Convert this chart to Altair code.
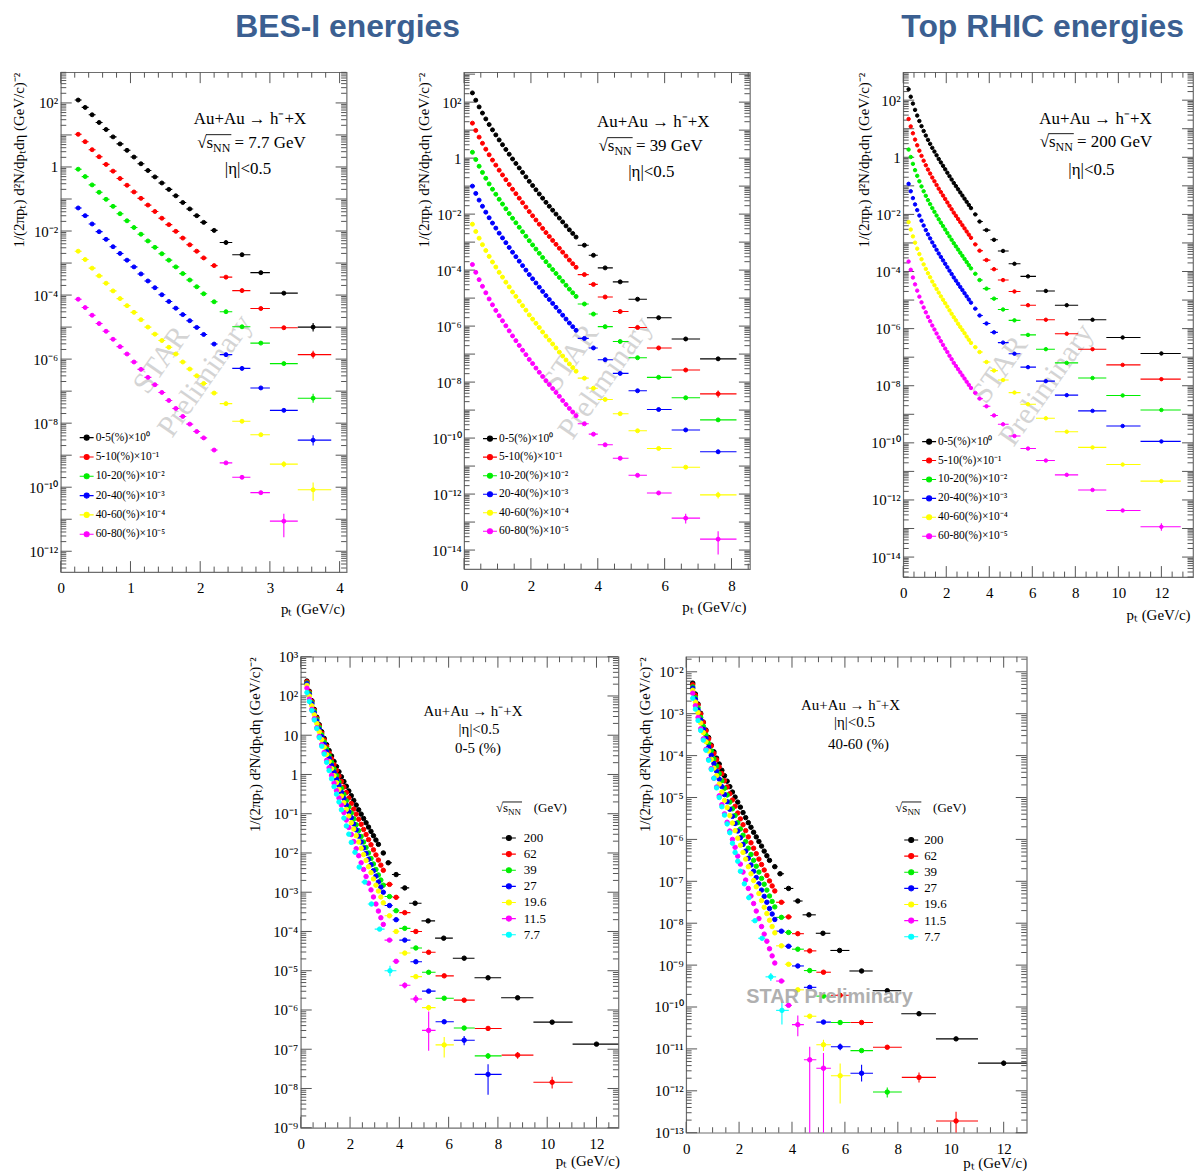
import math
import altair as alt
import pandas as pd

SERIF = "Liberation Serif"
BANNER_FONT = "Liberation Sans Narrow, Arial Narrow, Liberation Sans, sans-serif"
TICK_COLOR = "#555555"
FRAME_COLOR = "#6e6e6e"
TITLE_BLUE = "#3b5f91"
WATER = "#d4d4d4"
BLACK, RED, GREEN, BLUE, YELLOW, MAGENTA, CYAN = "#000000", "#ff0000", "#00ee00", "#0000ff", "#ffff00", "#ff00ff", "#00ffff"

# ---------------- pT bins (GeV/c) ----------------
PT7 = [0.25, 0.35, 0.45, 0.55, 0.65, 0.75, 0.85, 0.95, 1.05, 1.15, 1.25, 1.35, 1.45, 1.55, 1.65, 1.75,
       1.85, 1.95, 2.05, 2.2, 2.37, 2.6, 2.87, 3.2, 3.62]
PT7_LO = [0.2, 0.3, 0.4, 0.5, 0.6, 0.7, 0.8, 0.9, 1.0, 1.1, 1.2, 1.3, 1.4, 1.5, 1.6, 1.7, 1.8, 1.9, 2.0,
          2.15, 2.28, 2.46, 2.72, 3.0, 3.4]
PT7_HI = [0.3, 0.4, 0.5, 0.6, 0.7, 0.8, 0.9, 1.0, 1.1, 1.2, 1.3, 1.4, 1.5, 1.6, 1.7, 1.8, 1.9, 2.0, 2.1,
          2.25, 2.46, 2.72, 3.0, 3.4, 3.88]

PT_BES = [0.25, 0.35, 0.45, 0.55, 0.65, 0.75, 0.85, 0.95, 1.05, 1.15, 1.25, 1.35, 1.45, 1.55, 1.65, 1.75,
          1.85, 1.95, 2.05, 2.15, 2.25, 2.35, 2.45, 2.55, 2.65, 2.75, 2.85, 2.95, 3.05, 3.15, 3.25, 3.35,
          3.6, 3.87, 4.22, 4.67, 5.19, 5.82, 6.63, 7.6, 8.8, 10.2]
PT_BES_SPARSE_LO = [3.4, 3.73, 4.0, 4.45, 4.92, 5.47, 6.21, 7.06, 8.15, 9.44]
PT_BES_SPARSE_HI = [3.73, 4.0, 4.45, 4.92, 5.47, 6.21, 7.06, 8.15, 9.44, 11.03]

PT200 = [0.25, 0.35, 0.45, 0.55, 0.65, 0.75, 0.85, 0.95, 1.05, 1.15, 1.25, 1.35, 1.45, 1.55, 1.65, 1.75,
         1.85, 1.95, 2.05, 2.15, 2.25, 2.35, 2.45, 2.55, 2.65, 2.75, 2.85, 2.95, 3.05, 3.15,
         3.35, 3.55, 3.87, 4.22, 4.64, 5.17, 5.8, 6.63, 7.6, 8.8, 10.2, 12.0]
PT200_SPARSE_LO = [3.25, 3.45, 3.7, 4.05, 4.4, 4.9, 5.45, 6.17, 7.05, 8.13, 9.44, 11.03]
PT200_SPARSE_HI = [3.45, 3.7, 4.05, 4.4, 4.9, 5.45, 6.17, 7.05, 8.13, 9.44, 11.03, 12.9]

PT_BES_LO = [round(c - 0.05, 2) for c in PT_BES[:32]] + PT_BES_SPARSE_LO
PT_BES_HI = [round(c + 0.05, 2) for c in PT_BES[:32]] + PT_BES_SPARSE_HI
PT200_LO = [round(c - 0.05, 2) for c in PT200[:30]] + PT200_SPARSE_LO
PT200_HI = [round(c + 0.05, 2) for c in PT200[:30]] + PT200_SPARSE_HI

# ------------- yields, log10 of plotted value -------------
# 7.7 GeV (scaled as in the legend)
LY7_C0_5 = [2.09, 1.86, 1.63, 1.39, 1.17, 0.94, 0.72, 0.52, 0.31, 0.10, -0.11, -0.31, -0.50, -0.70, -0.90,
            -1.11, -1.31, -1.52, -1.73, -1.98, -2.36, -2.74, -3.30, -3.94, -5.00]
LY7_C5_10 = [1.02, 0.79, 0.54, 0.32, 0.08, -0.13, -0.36, -0.57, -0.78, -0.98, -1.19, -1.39, -1.60, -1.80,
             -2.01, -2.22, -2.43, -2.63, -2.84, -3.08, -3.44, -3.86, -4.42, -5.02, -5.86]
LY7_C10_20 = [-0.07, -0.30, -0.56, -0.79, -1.01, -1.23, -1.46, -1.68, -1.89, -2.10, -2.31, -2.51, -2.71, -2.91,
              -3.12, -3.33, -3.53, -3.74, -3.96, -4.21, -4.52, -4.99, -5.50, -6.14, -7.22]
LY7_C20_40 = [-1.28, -1.52, -1.78, -2.02, -2.26, -2.49, -2.70, -2.91, -3.12, -3.34, -3.56, -3.77, -3.99, -4.20,
              -4.41, -4.61, -4.80, -5.01, -5.23, -5.53, -5.86, -6.29, -6.90, -7.60, -8.53]
LY7_C40_60 = [-2.63, -2.89, -3.16, -3.40, -3.63, -3.87, -4.11, -4.33, -4.54, -4.77, -5.00, -5.22, -5.42, -5.63,
              -5.84, -6.09, -6.31, -6.52, -6.76, -7.06, -7.39, -7.94, -8.36, -9.28, -10.08]
LY7_C60_80 = [-4.13, -4.39, -4.63, -4.89, -5.13, -5.38, -5.61, -5.84, -6.09, -6.32, -6.57, -6.80, -7.04, -7.29,
              -7.54, -7.79, -8.03, -8.26, -8.46, -8.84, -9.24, -9.69, -10.17, -11.06]

# 39 GeV
LY39_C0_5 = [2.33, 2.07, 1.83, 1.61, 1.40, 1.20, 1.01, 0.83, 0.65, 0.48, 0.31, 0.14, -0.03, -0.19, -0.35, -0.51,
             -0.67, -0.83, -0.98, -1.13, -1.28, -1.43, -1.58, -1.72, -1.86, -2.00, -2.14, -2.28, -2.42, -2.56,
             -2.69, -2.82, -3.11, -3.47, -3.92, -4.42, -5.04, -5.70, -6.46, -7.17]
LY39_C5_10 = [1.25, 0.99, 0.75, 0.53, 0.32, 0.12, -0.07, -0.25, -0.43, -0.60, -0.77, -0.94, -1.11, -1.27, -1.43,
              -1.59, -1.75, -1.91, -2.06, -2.21, -2.36, -2.51, -2.66, -2.80, -2.94, -3.08, -3.22, -3.36, -3.50,
              -3.64, -3.77, -3.90, -4.16, -4.51, -4.96, -5.48, -6.05, -6.78, -7.57, -8.42]
LY39_C10_20 = [0.21, -0.05, -0.29, -0.51, -0.72, -0.92, -1.11, -1.29, -1.47, -1.64, -1.81, -1.98, -2.15, -2.31,
               -2.47, -2.63, -2.79, -2.95, -3.10, -3.25, -3.40, -3.55, -3.70, -3.84, -3.98, -4.12, -4.26, -4.40,
               -4.54, -4.68, -4.81, -4.94, -5.21, -5.57, -6.02, -6.55, -7.13, -7.83, -8.56, -9.35]
LY39_C20_40 = [-1.00, -1.26, -1.50, -1.72, -1.93, -2.13, -2.32, -2.50, -2.68, -2.85, -3.02, -3.19, -3.36, -3.52,
               -3.68, -3.84, -4.00, -4.16, -4.31, -4.46, -4.61, -4.76, -4.91, -5.05, -5.19, -5.33, -5.47, -5.61,
               -5.75, -5.89, -6.02, -6.15, -6.44, -6.78, -7.20, -7.69, -8.31, -8.98, -9.71, -10.49]
LY39_C40_60 = [-2.36, -2.62, -2.86, -3.09, -3.30, -3.51, -3.71, -3.89, -4.08, -4.25, -4.43, -4.60, -4.78, -4.94,
               -5.11, -5.27, -5.43, -5.60, -5.75, -5.90, -6.05, -6.21, -6.36, -6.50, -6.64, -6.78, -6.93, -7.07,
               -7.21, -7.35, -7.48, -7.61, -7.86, -8.22, -8.62, -9.13, -9.74, -10.37, -11.04, -12.03]
LY39_C60_80 = [-3.80, -4.08, -4.34, -4.58, -4.81, -5.03, -5.24, -5.44, -5.63, -5.81, -5.99, -6.17, -6.35, -6.52,
               -6.69, -6.86, -7.02, -7.19, -7.34, -7.50, -7.65, -7.80, -7.95, -8.09, -8.23, -8.37, -8.51, -8.66,
               -8.80, -8.94, -9.07, -9.20, -9.49, -9.86, -10.24, -10.72, -11.33, -11.96, -12.86, -13.61]

# 200 GeV
LY200_C0_5 = [2.38, 2.12, 1.88, 1.66, 1.46, 1.27, 1.09, 0.92, 0.76, 0.61, 0.47, 0.33, 0.20, 0.07, -0.06, -0.18,
              -0.30, -0.42, -0.54, -0.66, -0.78, -0.90, -1.01, -1.12, -1.23, -1.34, -1.45, -1.56, -1.67, -1.78,
              -2.00, -2.25, -2.55, -2.89, -3.28, -3.73, -4.17, -4.68, -5.18, -5.69, -6.31, -6.87]
LY200_C5_10 = [1.34, 1.08, 0.84, 0.62, 0.42, 0.23, 0.05, -0.12, -0.28, -0.43, -0.57, -0.71, -0.84, -0.97, -1.10,
               -1.22, -1.34, -1.46, -1.58, -1.70, -1.82, -1.94, -2.05, -2.16, -2.27, -2.38, -2.49, -2.60, -2.71,
               -2.82, -3.05, -3.27, -3.60, -3.92, -4.30, -4.70, -5.18, -5.69, -6.18, -6.72, -7.27, -7.77]
LY200_C10_20 = [0.27, 0.01, -0.23, -0.45, -0.65, -0.84, -1.02, -1.19, -1.35, -1.50, -1.64, -1.78, -1.91, -2.04,
                -2.17, -2.29, -2.41, -2.53, -2.65, -2.77, -2.89, -3.01, -3.12, -3.23, -3.34, -3.45, -3.56, -3.67,
                -3.78, -3.89, -4.08, -4.30, -4.60, -4.95, -5.33, -5.71, -6.22, -6.72, -7.20, -7.73, -8.34, -8.85]
LY200_C20_40 = [-0.93, -1.19, -1.43, -1.65, -1.85, -2.04, -2.22, -2.39, -2.55, -2.70, -2.84, -2.98, -3.11, -3.24,
                -3.37, -3.49, -3.61, -3.73, -3.85, -3.97, -4.09, -4.21, -4.32, -4.43, -4.54, -4.65, -4.76, -4.87,
                -4.98, -5.09, -5.30, -5.54, -5.82, -6.13, -6.49, -6.88, -7.35, -7.84, -8.33, -8.88, -9.41, -9.95]
LY200_C40_60 = [-2.27, -2.53, -2.77, -2.99, -3.20, -3.39, -3.57, -3.75, -3.91, -4.06, -4.20, -4.35, -4.48, -4.61,
                -4.74, -4.87, -4.99, -5.11, -5.23, -5.36, -5.48, -5.60, -5.71, -5.83, -5.94, -6.05, -6.16, -6.28,
                -6.39, -6.50, -6.65, -6.82, -7.17, -7.47, -7.80, -8.24, -8.65, -9.14, -9.61, -10.16, -10.76, -11.34]
LY200_C60_80 = [-3.65, -3.94, -4.21, -4.45, -4.67, -4.88, -5.08, -5.26, -5.43, -5.59, -5.74, -5.89, -6.03, -6.17,
                -6.31, -6.44, -6.57, -6.70, -6.82, -6.95, -7.07, -7.20, -7.31, -7.42, -7.53, -7.64, -7.75, -7.86,
                -7.97, -8.08, -8.25, -8.45, -8.72, -9.04, -9.35, -9.76, -10.20, -10.62, -11.12, -11.65, -12.37, -12.94]

# other energies, 0-5 %
LY62_C0_5 = [2.36, 2.10, 1.86, 1.64, 1.43, 1.24, 1.05, 0.88, 0.71, 0.55, 0.40, 0.25, 0.10, -0.04, -0.18, -0.32,
             -0.46, -0.60, -0.74, -0.88, -1.01, -1.14, -1.27, -1.40, -1.53, -1.66, -1.79, -1.92, -2.05, -2.18,
             -2.31, -2.44, -2.80, -3.13, -3.52, -4.00, -4.53, -5.13, -5.75, -6.47, -7.15, -7.84]
LY27_C0_5 = [2.31, 2.04, 1.80, 1.57, 1.36, 1.15, 0.96, 0.77, 0.58, 0.41, 0.23, 0.06, -0.12, -0.28, -0.45, -0.61,
             -0.78, -0.95, -1.10, -1.26, -1.41, -1.57, -1.72, -1.87, -2.01, -2.16, -2.30, -2.45, -2.59, -2.74,
             -2.87, -3.00, -3.34, -3.70, -4.22, -4.77, -5.52, -6.30, -6.77, -7.64]
LY19_C0_5 = [2.27, 2.00, 1.75, 1.52, 1.30, 1.09, 0.89, 0.70, 0.51, 0.33, 0.15, -0.03, -0.21, -0.38, -0.55, -0.72,
             -0.89, -1.06, -1.23, -1.39, -1.56, -1.72, -1.88, -2.04, -2.19, -2.35, -2.50, -2.66, -2.82, -2.97,
             -3.12, -3.27, -3.60, -4.00, -4.55, -5.15, -5.94, -6.89]
LY11_C0_5 = [2.20, 1.92, 1.66, 1.42, 1.19, 0.97, 0.76, 0.56, 0.36, 0.17, -0.02, -0.22, -0.41, -0.60, -0.78, -0.97,
             -1.16, -1.35, -1.53, -1.71, -1.89, -2.07, -2.25, -2.42, -2.60, -2.77, -2.94, -3.12, -3.30, -3.48,
             -3.65, -3.82, -4.22, -4.76, -5.37, -5.72, -6.52]
# other energies, 40-60 % (as plotted, x10^-4)
LY62_C40_60 = [-2.31, -2.56, -2.79, -3.01, -3.21, -3.41, -3.60, -3.77, -3.95, -4.10, -4.27, -4.43, -4.60, -4.75,
               -4.91, -5.06, -5.21, -5.37, -5.51, -5.65, -5.79, -5.94, -6.08, -6.21, -6.34, -6.47, -6.60, -6.73,
               -6.86, -6.99, -7.11, -7.23, -7.50, -7.85, -8.25, -8.66, -9.17, -9.72, -10.37, -10.96, -11.68, -12.72]
LY27_C40_60 = [-2.39, -2.66, -2.91, -3.15, -3.37, -3.59, -3.80, -3.99, -4.19, -4.37, -4.56, -4.74, -4.93, -5.10,
               -5.28, -5.45, -5.62, -5.80, -5.96, -6.12, -6.28, -6.45, -6.61, -6.76, -6.91, -7.06, -7.21, -7.36,
               -7.50, -7.65, -7.78, -7.91, -8.19, -8.55, -9.02, -9.53, -10.36, -10.95, -11.58]
LY19_C40_60 = [-2.44, -2.72, -2.97, -3.22, -3.45, -3.67, -3.89, -4.09, -4.30, -4.48, -4.68, -4.87, -5.07, -5.24,
               -5.43, -5.61, -5.79, -5.97, -6.14, -6.31, -6.47, -6.65, -6.82, -6.98, -7.13, -7.29, -7.46, -7.62,
               -7.77, -7.93, -8.08, -8.23, -8.54, -8.98, -9.59, -10.22, -10.90, -11.64]
LY11_C40_60 = [-2.51, -2.81, -3.09, -3.36, -3.60, -3.85, -4.09, -4.31, -4.54, -4.75, -4.96, -5.17, -5.39, -5.59,
               -5.80, -6.00, -6.19, -6.40, -6.59, -6.78, -6.97, -7.17, -7.35, -7.53, -7.71, -7.89, -8.08, -8.26,
               -8.43, -8.61, -8.78, -8.95, -9.38, -9.96, -10.42, -11.26, -11.46]

# vertical error bars: point index -> (log10 low, log10 high)
ERR7 = {"C0_5": {24: (-5.14, -4.87)}, "C5_10": {24: (-5.98, -5.74)}, "C10_20": {24: (-7.36, -7.08)},
        "C20_40": {24: (-8.70, -8.38)}, "C40_60": {23: (-9.38, -9.19), 24: (-10.42, -9.85)},
        "C60_80": {23: (-11.56, -10.83)}}
ERR39 = {"C0_5": {38: (-6.52, -6.41), 39: (-7.25, -7.10)}, "C5_10": {39: (-8.55, -8.30)},
         "C10_20": {39: (-9.42, -9.28)}, "C20_40": {39: (-10.56, -10.42)}, "C40_60": {39: (-12.16, -11.92)},
         "C60_80": {38: (-13.05, -12.70), 39: (-14.16, -13.33)}}
ERR200 = {"C0_5": {}, "C5_10": {41: (-7.82, -7.72)}, "C10_20": {}, "C20_40": {},
          "C40_60": {41: (-11.40, -11.28)}, "C60_80": {41: (-13.08, -12.82)}}
ERR62 = {"C0_5": {40: (-7.24, -7.07), 41: (-8.0, -7.7)}, "C40_60": {40: (-11.8, -11.56), 41: (-13.0, -12.5)}}
ERR27 = {"C0_5": {38: (-6.9, -6.66), 39: (-8.16, -7.38)}, "C40_60": {37: (-11.03, -10.87), 38: (-11.78, -11.38)}}
ERR19 = {"C0_5": {36: (-6.02, -5.87), 37: (-7.21, -6.69)}, "C40_60": {36: (-11.05, -10.78), 37: (-12.3, -11.35)}}
ERR11 = {"C0_5": {34: (-5.45, -5.30), 35: (-5.82, -5.62), 36: (-7.04, -6.04)},
         "C40_60": {34: (-10.7, -10.2), 35: (-13.5, -10.95), 36: (-13.5, -11.1)}}

CENT_LABELS = ["0-5(%)×10⁰", "5-10(%)×10⁻¹", "10-20(%)×10⁻²", "20-40(%)×10⁻³", "40-60(%)×10⁻⁴", "60-80(%)×10⁻⁵"]
CENT_COLORS = [BLACK, RED, GREEN, BLUE, YELLOW, MAGENTA]
FS = "\u2007"
ENERGY_LABELS = ["200", FS + "62", FS + "39", FS + "27", FS + "19.6", FS + "11.5", FS + FS + "7.7"]
ENERGY_COLORS = [BLACK, RED, GREEN, BLUE, YELLOW, MAGENTA, CYAN]

BINS7 = (PT7, PT7_LO, PT7_HI)
BINS_BES = (PT_BES, PT_BES_LO, PT_BES_HI)
BINS200 = (PT200, PT200_LO, PT200_HI)

YTITLE = "1/(2πpₜ) d²N/dpₜdη (GeV/c)⁻²"
SUP = "['⁰','¹','²','³','⁴','⁵','⁶','⁷','⁸','⁹']"
EXP = "round(log(datum.value)/LN10)"
LOG_LABEL = (f"{EXP} == 0 ? '1' : {EXP} == 1 ? '10' : '10' + ({EXP} < 0 ? '⁻' : '') + "
             f"(abs({EXP}) >= 10 ? {SUP}[floor(abs({EXP})/10)] : '') + {SUP}[abs({EXP}) % 10]")
SYM = "M-1,0H1M0.36,0A0.36,0.36,0,1,1,-0.36,0A0.36,0.36,0,1,1,0.36,0Z"
DUMMY = pd.DataFrame({"a": [0]})


def build_df(series):
    rows = []
    for name, bins, logs, errs in series:
        pts, los, his = bins
        for i, lv in enumerate(logs[:len(pts)]):
            e = errs.get(i)
            rows.append({"s": name, "pt": pts[i], "lo": los[i], "hi": his[i], "y": 10.0 ** lv,
                         "ylo": (10.0 ** e[0]) if e else None, "yhi": (10.0 ** e[1]) if e else None})
    return pd.DataFrame(rows)


def txt(s, x, y, size, align="center", baseline="middle", font=SERIF, color="black", angle=0, weight="normal"):
    kw = dict(text=s, font=font, fontSize=size, align=align, baseline=baseline, color=color, fontWeight=weight)
    if angle:
        kw["angle"] = angle
    return alt.Chart(DUMMY).mark_text(**kw).encode(x=alt.value(x), y=alt.value(y))


def hline(x1, x2, y, width=0.9):
    return alt.Chart(DUMMY).mark_rule(color="black", strokeWidth=width).encode(
        x=alt.value(x1), x2=alt.value(x2), y=alt.value(y))


def sqrt_s(x0, yb, size, rest, sub, rest_x=None):
    w1 = 0.938 * size
    w2 = 1.444 * sub
    rx = rest_x if rest_x is not None else x0 + w1 + w2 + 0.25 * size
    return [txt("√s", x0, yb, size, align="left", baseline="alphabetic"),
            txt("NN", x0 + w1, yb + 0.22 * size, sub, align="left", baseline="alphabetic"),
            hline(x0 + 0.52 * size, x0 + w1 + w2 + 1, yb - 0.78 * size),
            txt(rest, rx, yb, size, align="left", baseline="alphabetic")]


def tick_layers(W, H, xs, ys, xaxis, yaxis, xmajor, xstep, xmax, ylo, yhi):
    ymaj, ymin = [], []
    for k in range(math.floor(ylo) - 1, math.ceil(yhi) + 1):
        for m in range(1, 10):
            v = m * 10.0 ** k
            if 10.0 ** ylo <= v <= 10.0 ** yhi:
                (ymaj if m == 1 else ymin).append(v)
    xmin = []
    n = int(round(xmax / xstep))
    for i in range(n + 1):
        v = round(i * xstep, 4)
        if v <= xmax and all(abs(v - m) > 1e-6 for m in xmajor):
            xmin.append(v)

    def yr(vals, a, b):
        return alt.Chart(pd.DataFrame({"v": vals})).mark_rule(color=TICK_COLOR, strokeWidth=1).encode(
            y=alt.Y("v:Q", scale=ys, axis=yaxis), x=alt.value(a), x2=alt.value(b))

    def xr(vals, a, b):
        return alt.Chart(pd.DataFrame({"v": vals})).mark_rule(color=TICK_COLOR, strokeWidth=1).encode(
            x=alt.X("v:Q", scale=xs, axis=xaxis), y=alt.value(a), y2=alt.value(b))

    return [yr(ymaj, 0, 11), yr(ymaj, W - 11, W), yr(ymin, 0, 5.5), yr(ymin, W - 5.5, W),
            xr(xmajor, H, H - 11), xr(xmajor, 0, 11), xr(xmin, H, H - 5.5), xr(xmin, 0, 5.5)]


def make_panel(series, order, colors, W, H, xmax, ylo, yhi, xmajor, xstep, yexps, leg, ytx, xtitle,
               below, above, psize):
    df = build_df(series)
    xs = alt.Scale(domain=[0, xmax], nice=False, zero=False)
    ys = alt.Scale(type="log", domain=[10.0 ** ylo, 10.0 ** yhi], nice=False)
    cs = alt.Scale(domain=order, range=colors)
    xaxis = alt.Axis(values=xmajor, format="d", ticks=False, domain=False, grid=False, labelFlush=False,
                     labelOverlap=False, labelFont=SERIF, labelFontSize=15, labelPadding=9, labelColor="black",
                     title="pₜ (GeV/c)", titleFont=SERIF, titleFontSize=15, titleFontWeight="normal",
                     titleX=xtitle[0], titleY=xtitle[1], titleAlign="right", titleBaseline="middle",
                     titleColor="black")
    yaxis = alt.Axis(values=[10.0 ** e for e in yexps], labelExpr=LOG_LABEL, ticks=False, domain=False,
                     grid=False, labelFlush=False, labelOverlap=False, labelFont=SERIF, labelFontSize=15,
                     labelPadding=3, labelColor="black", title=YTITLE, titleFont=SERIF, titleFontSize=15,
                     titleFontWeight="normal", titleAngle=270, titleX=ytx, titleY=0, titleAlign="right",
                     titleBaseline="middle", titleColor="black")
    legend = alt.Legend(orient="none", legendX=leg[0], legendY=leg[1], title=None, symbolType=SYM,
                        symbolSize=196, symbolStrokeWidth=1.1, labelFont=SERIF, labelFontSize=leg[3],
                        labelColor="black", rowPadding=leg[2], labelOffset=leg[4], padding=0, labelLimit=300)
    base = alt.Chart(df)
    xerr = base.mark_rule(strokeWidth=1.1, clip=True).encode(
        x=alt.X("lo:Q", scale=xs, axis=xaxis), x2="hi:Q",
        y=alt.Y("y:Q", scale=ys, axis=yaxis),
        stroke=alt.Stroke("s:N", scale=cs, legend=legend))
    yerr = base.transform_filter("isValid(datum.ylo)").mark_rule(strokeWidth=1.1, clip=True).encode(
        x=alt.X("pt:Q", scale=xs, axis=xaxis),
        y=alt.Y("ylo:Q", scale=ys, axis=yaxis), y2="yhi:Q",
        stroke=alt.Stroke("s:N", scale=cs, legend=legend))
    pts = base.mark_point(filled=True, shape="circle", size=psize, strokeWidth=1, opacity=1, clip=True).encode(
        x=alt.X("pt:Q", scale=xs, axis=xaxis),
        y=alt.Y("y:Q", scale=ys, axis=yaxis),
        fill=alt.Fill("s:N", scale=cs, legend=legend),
        stroke=alt.Stroke("s:N", scale=cs, legend=legend))
    layers = (below + tick_layers(W, H, xs, ys, xaxis, yaxis, xmajor, xstep, xmax, ylo, yhi)
              + [xerr, yerr, pts] + above)
    return alt.layer(*layers).properties(width=W, height=H)


def cent_series(bins, arrs, errs):
    keys = ["C0_5", "C5_10", "C10_20", "C20_40", "C40_60", "C60_80"]
    return [(CENT_LABELS[i], bins, arrs[i], errs.get(keys[i], {})) for i in range(6)]


def watermark(p1, p2):
    return [txt("STAR", p1[0], p1[1], 30, color=WATER, angle=305),
            txt("Preliminary", p2[0], p2[1], 30, color=WATER, angle=305)]


def banner(s, x):
    return txt(s, x, -35, 32, baseline="alphabetic", font=BANNER_FONT, color=TITLE_BLUE, weight="bold")


# ---------------- panels ----------------
p1 = make_panel(
    cent_series(BINS7, [LY7_C0_5, LY7_C5_10, LY7_C10_20, LY7_C20_40, LY7_C40_60, LY7_C60_80], ERR7),
    CENT_LABELS, CENT_COLORS, 287, 502, 4.1, -12.65, 2.96, [0, 1, 2, 3, 4], 0.2, list(range(2, -13, -2)),
    (18, 359, 5.4, 11.5, 1), -42, (285, 37),
    below=watermark((101, 289), (145, 305)),
    above=[banner("BES-I energies", 288), txt("Au+Au → h⁻+X", 190, 47, 17)]
          + sqrt_s(137, 76, 17, "= 7.7 GeV", 12) + [txt("|η|<0.5", 188, 97, 17)],
    psize=16)

p2 = make_panel(
    cent_series(BINS_BES, [LY39_C0_5, LY39_C5_10, LY39_C10_20, LY39_C20_40, LY39_C40_60, LY39_C60_80], ERR39),
    CENT_LABELS, CENT_COLORS, 287, 499, 8.55, -14.68, 3.07, [0, 2, 4, 6, 8], 0.5, list(range(2, -15, -2)),
    (18, 360, 4.6, 11.5, 1), -41, (283, 38),
    below=watermark((107, 287), (142, 307)),
    above=[txt("Au+Au → h⁻+X", 190, 50, 17)] + sqrt_s(135, 79, 17, "= 39 GeV", 12)
          + [txt("|η|<0.5", 188, 100, 17)],
    psize=16)

p3 = make_panel(
    cent_series(BINS200, [LY200_C0_5, LY200_C5_10, LY200_C10_20, LY200_C20_40, LY200_C40_60, LY200_C60_80],
                ERR200),
    CENT_LABELS, CENT_COLORS, 291, 507, 13.47, -14.70, 2.98, [0, 2, 4, 6, 8, 10, 12], 0.5,
    list(range(2, -15, -2)),
    (18, 363, 5.0, 11.5, 1), -40, (288, 38),
    below=watermark((97, 299), (144, 314)),
    above=[banner("Top RHIC energies", 140), txt("Au+Au → h⁻+X", 193, 47, 17)]
          + sqrt_s(137, 75, 17, "= 200 GeV", 12) + [txt("|η|<0.5", 189, 98, 17)],
    psize=12)

p4_series = [
    (ENERGY_LABELS[0], BINS200, LY200_C0_5, ERR200["C0_5"]),
    (ENERGY_LABELS[1], BINS_BES, LY62_C0_5, ERR62["C0_5"]),
    (ENERGY_LABELS[2], BINS_BES, LY39_C0_5, ERR39["C0_5"]),
    (ENERGY_LABELS[3], BINS_BES, LY27_C0_5, ERR27["C0_5"]),
    (ENERGY_LABELS[4], BINS_BES, LY19_C0_5, ERR19["C0_5"]),
    (ENERGY_LABELS[5], BINS_BES, LY11_C0_5, ERR11["C0_5"]),
    (ENERGY_LABELS[6], BINS7, LY7_C0_5, ERR7["C0_5"]),
]
p4 = make_panel(
    p4_series, ENERGY_LABELS, ENERGY_COLORS, 319, 473, 12.89, -9.0, 3.0, [0, 2, 4, 6, 8, 10, 12], 0.5,
    list(range(3, -10, -1)),
    (201, 174, 1.2, 13, 7), -46, (320, 33),
    below=[],
    above=[txt("Au+Au → h⁻+X", 173, 55, 15), txt("|η|<0.5", 179, 73, 15), txt("0-5 (%)", 178, 92, 15)]
          + sqrt_s(196, 156, 13, "(GeV)", 9, rest_x=234),
    psize=20)

p5_series = [
    (ENERGY_LABELS[0], BINS200, LY200_C40_60, ERR200["C40_60"]),
    (ENERGY_LABELS[1], BINS_BES, LY62_C40_60, ERR62["C40_60"]),
    (ENERGY_LABELS[2], BINS_BES, LY39_C40_60, ERR39["C40_60"]),
    (ENERGY_LABELS[3], BINS_BES, LY27_C40_60, ERR27["C40_60"]),
    (ENERGY_LABELS[4], BINS_BES, LY19_C40_60, ERR19["C40_60"]),
    (ENERGY_LABELS[5], BINS_BES, LY11_C40_60, ERR11["C40_60"]),
    (ENERGY_LABELS[6], BINS7, LY7_C40_60, ERR7["C40_60"]),
]
p5 = make_panel(
    p5_series, ENERGY_LABELS, ENERGY_COLORS, 342, 478, 12.87, -13.0, -1.64, [0, 2, 4, 6, 8, 10, 12], 0.5,
    list(range(-2, -14, -1)),
    (218, 176, 1.2, 13, 5), -42, (342, 30),
    below=[],
    above=[txt("Au+Au → h⁻+X", 165, 48, 15), txt("|η|<0.5", 169, 66, 15), txt("40-60 (%)", 173, 88, 15),
           txt("STAR Preliminary", 144, 342, 20, font="Liberation Sans", color="#b0b0b0", weight="bold")]
          + sqrt_s(210, 156, 13, "(GeV)", 9, rest_x=248),
    psize=20)


def spacer(w, h=1):
    return alt.Chart(DUMMY).mark_point(opacity=0).encode(
        x=alt.X("a:Q", axis=None), y=alt.Y("a:Q", axis=None)
    ).properties(width=w, height=h, view=alt.ViewBackground(stroke="transparent"))


def independent(c):
    return c.resolve_scale(fill="independent", stroke="independent").resolve_legend(
        fill="independent", stroke="independent")


row1 = independent(alt.hconcat(p1, spacer(118), p2, spacer(154), p3, spacing=0, bounds="flush"))
row2 = independent(alt.hconcat(spacer(241), p4, spacer(68), p5, spacing=0, bounds="flush"))
chart = independent(alt.vconcat(row1, row2, spacing=25))
chart = chart.properties(padding={"left": 3, "top": 0, "right": 0, "bottom": 0}, background="white")
chart = chart.configure_view(stroke=FRAME_COLOR, strokeWidth=1.2)
chart.save("out.html", embed_options={"renderer": "svg", "actions": False})
